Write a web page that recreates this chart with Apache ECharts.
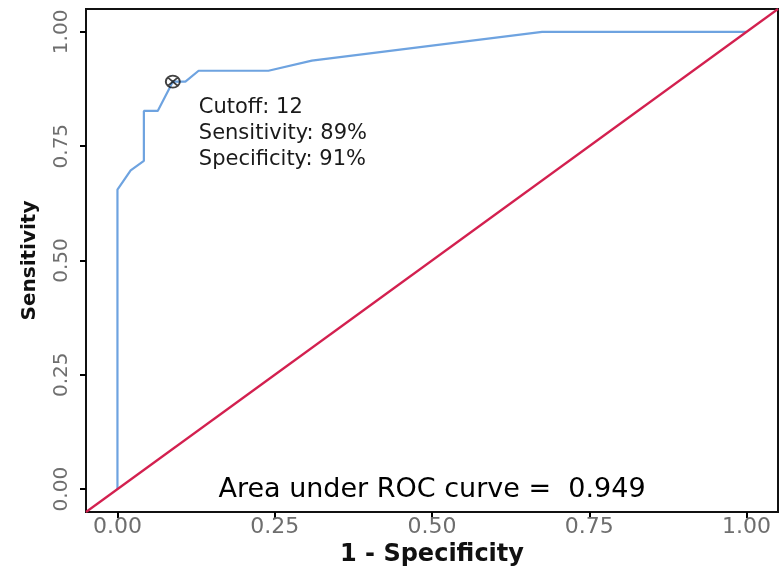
<!DOCTYPE html>
<html>
<head>
<meta charset="utf-8">
<script src="https://cdn.jsdelivr.net/npm/echarts@6/dist/echarts.min.js"></script>
<style>
  html, body { margin: 0; padding: 0; background: #fff; }
  #chart { width: 781px; height: 568px; }
</style>
</head>
<body>
<div id="chart"></div>
<script>
// ROC curve points (1 - specificity, sensitivity)
const fpr = [0, 0, 0.021, 0.042, 0.042, 0.064, 0.088, 0.108, 0.129, 0.240, 0.309, 0.675, 1.0];
const tpr = [0, 0.655, 0.697, 0.718, 0.827, 0.827, 0.891, 0.891, 0.915, 0.915, 0.937, 1.0, 1.0];
// reference diagonal (spans the whole panel)
const diagX = [-0.05, 1.05];
const diagY = [-0.05, 1.05];
// optimal cutoff point
const cutX = [0.088];
const cutY = [0.891];
// tick values / labels
const tickValues = [0, 0.25, 0.5, 0.75, 1.0];
const tickLabels = ['0.00', '0.25', '0.50', '0.75', '1.00'];
// annotation texts
const annoLines = ['Cutoff: 12', 'Sensitivity: 89%', 'Specificity: 91%'];
const aucText = 'Area under ROC curve =  0.949';

const FONT = '"DejaVu Sans", Verdana, sans-serif';
const fmt = v => tickLabels[tickValues.findIndex(t => Math.abs(t - v) < 1e-9)] || '';

const chart = echarts.init(document.getElementById('chart'), null, { renderer: 'canvas' });

const axisCommon = {
  type: 'value',
  min: -0.05,
  max: 1.05,
  splitLine: { show: false },
  axisLine: { show: false, onZero: false },
  axisTick: { show: true, length: 6, customValues: tickValues, lineStyle: { color: '#000', width: 2 } },
};

chart.setOption({
  animation: false,
  backgroundColor: '#ffffff',
  grid: { left: 86, right: 3, top: 9, bottom: 56, outerBoundsMode: 'none', containLabel: false, show: true, borderColor: '#111', borderWidth: 2, backgroundColor: 'transparent' },
  xAxis: Object.assign({}, axisCommon, {
    name: '1 - Specificity',
    nameLocation: 'middle',
    nameGap: 24,
    nameTextStyle: { fontFamily: FONT, fontWeight: 'bold', fontSize: 24, color: '#111' },
    axisLabel: { customValues: tickValues, formatter: fmt, fontFamily: FONT, fontSize: 22, color: '#6e6e6e', margin: 4 }
  }),
  yAxis: Object.assign({}, axisCommon, {
    name: 'Sensitivity',
    nameLocation: 'middle',
    nameRotate: 90,
    nameGap: 46,
    nameTextStyle: { fontFamily: FONT, fontWeight: 'bold', fontSize: 20, color: '#111' },
    axisLabel: { customValues: tickValues, formatter: fmt, rotate: 90, fontFamily: FONT, fontSize: 20, color: '#6e6e6e', margin: 14 }
  }),
  series: [
    {
      type: 'line',
      data: fpr.map((x, i) => [x, tpr[i]]),
      showSymbol: false,
      symbol: 'none',
      lineStyle: { color: '#6ea3e0', width: 2.2 },
      z: 2
    },
    {
      type: 'line',
      data: diagX.map((x, i) => [x, diagY[i]]),
      showSymbol: false,
      symbol: 'none',
      lineStyle: { color: '#d3204f', width: 2.2 },
      z: 3
    },
    {
      type: 'scatter',
      data: cutX.map((x, i) => [x, cutY[i]]),
      symbol: 'path://M0,-1 A1,1 0 1,1 0,1 A1,1 0 1,1 0,-1 Z M-0.707,-0.707 L0.707,0.707 M-0.707,0.707 L0.707,-0.707',
      symbolSize: [14, 12],
      itemStyle: { color: 'rgba(0,0,0,0)', borderColor: '#111', borderWidth: 1.8 },
      z: 4
    }
  ]
});

// Annotations anchored relative to the cutoff point / panel
const cp = chart.convertToPixel({ gridIndex: 0 }, [cutX[0], cutY[0]]);
const bottomCenter = chart.convertToPixel({ gridIndex: 0 }, [0.5, 0]);
const graphics = annoLines.map((t, i) => ({
  type: 'text',
  x: cp[0] + 26,
  y: cp[1] + 26 + i * 26,
  style: { text: t, font: '21px ' + FONT, fill: '#1a1a1a', align: 'left', verticalAlign: 'middle' },
  z: 10
}));
graphics.push({
  type: 'text',
  x: bottomCenter[0],
  y: bottomCenter[1] + 1,
  style: { text: aucText, font: '27px ' + FONT, fill: '#000', align: 'center', verticalAlign: 'middle' },
  z: 10
});
chart.setOption({ graphic: graphics });
</script>
</body>
</html>
